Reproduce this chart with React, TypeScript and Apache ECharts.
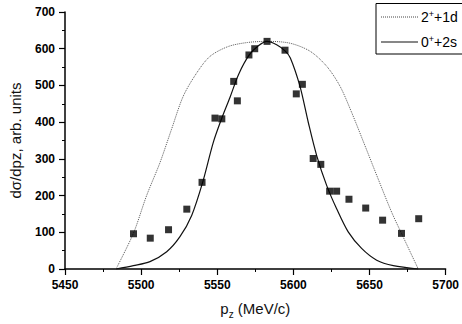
import React, { useEffect, useRef } from "react";
import * as echarts from "echarts";

// Measured points (pz in MeV/c, dσ/dpz in arb. units)
const dataX = [5495, 5506, 5518, 5530, 5540, 5548.5, 5553, 5560.8, 5563.2, 5570.8, 5574.6, 5582.7, 5594.5, 5601.9, 5605.9, 5613, 5618, 5623.8, 5628.4, 5636.5, 5647.5, 5658.6, 5671, 5682.3];
const dataY = [96, 84, 107, 163, 236, 411, 409, 511, 458, 583, 600, 620, 596, 477, 503, 301, 285, 212, 212, 190, 166, 133, 97, 137];

// 0+ + 2s curve (solid)
const solidX = [5483.5, 5494.9, 5505.8, 5516.8, 5525.5, 5533.2, 5540.4, 5547.4, 5552.9, 5558.4, 5564, 5571, 5577, 5582.5, 5589, 5594.5, 5598, 5604.3, 5609.8, 5615.3, 5621.9, 5628.4, 5636, 5644.8, 5654.7, 5665.6, 5682];
const solidY = [0, 9, 20, 47, 88, 146, 236, 345, 410, 468, 530, 583, 608, 620, 611, 594, 575, 498, 399, 309, 227, 164, 101, 56, 24, 9, 0];

// 2+ + 1d curve (dotted)
const dotX = [5483.5, 5494.9, 5503.6, 5512.4, 5520, 5527.7, 5536.5, 5545.2, 5557.2, 5570, 5583, 5597.8, 5611, 5621.9, 5630.6, 5638.3, 5647, 5655.7, 5664.5, 5671, 5682];
const dotY = [0, 97, 200, 290, 381, 471, 534, 579, 606, 617, 620, 615, 593, 552, 498, 426, 336, 245, 155, 97, 0];

const legendNames = ["2|+|+1d", "0|+|+2s"];

const FONT = "'Liberation Sans', Arial, sans-serif";

function richLabel(s: string) {
  const [a, sup, b] = s.split("|");
  return `{a|${a}}{sup|${sup}}{a|${b}}`;
}

export default function App() {
  const ref = useRef<HTMLDivElement>(null);
  useEffect(() => {
    document.body.style.margin = "0";
    const chart = echarts.init(ref.current!, undefined, { renderer: "svg" });
    const pair = (xs: number[], ys: number[]) => xs.map((x, i) => [x, ys[i]]);
    const legendRich = {
      a: { fontSize: 14, lineHeight: 16, fontFamily: FONT, color: "#000" },
      sup: { fontSize: 9, lineHeight: 9, verticalAlign: "top", fontFamily: FONT, color: "#000" },
    };
    chart.setOption({
      animation: false,
      backgroundColor: "#fff",
      textStyle: { fontFamily: FONT },
      grid: { left: 65, right: 16, top: 12, bottom: 53, containLabel: false },
      xAxis: {
        type: "value",
        min: 5450,
        max: 5700,
        interval: 50,
        name: "{a|p}{sub|z}{a| (MeV/c)}",
        nameLocation: "middle",
        nameGap: 29,
        nameTextStyle: {
          rich: {
            a: { fontSize: 15, fontFamily: FONT, color: "#111" },
            sub: { fontSize: 10, padding: [11, 0, 0, 0], fontFamily: FONT, color: "#111" },
          },
        },
        axisLine: { show: true, lineStyle: { color: "#000", width: 1.5 } },
        axisTick: { show: true, length: 6, lineStyle: { color: "#000", width: 1.2 } },
        minorTick: { show: true, splitNumber: 2, length: 3, lineStyle: { color: "#000", width: 1 } },
        axisLabel: {
          color: "#000",
          fontSize: 12,
          fontWeight: "bold",
          margin: 10,
          fontFamily: FONT,
          formatter: (v: number) => String(v),
        },
        splitLine: { show: false },
      },
      yAxis: {
        type: "value",
        min: 0,
        max: 700,
        interval: 100,
        name: "dσ/dpz, arb. units",
        nameLocation: "middle",
        nameGap: 42,
        nameTextStyle: { fontSize: 15, color: "#111", fontFamily: FONT },
        axisLine: { show: true, lineStyle: { color: "#000", width: 1.5 } },
        axisTick: { show: true, length: 6, lineStyle: { color: "#000", width: 1.2 } },
        minorTick: { show: true, splitNumber: 2, length: 3, lineStyle: { color: "#000", width: 1 } },
        axisLabel: { color: "#000", fontSize: 12, fontWeight: "bold", margin: 10, fontFamily: FONT },
        splitLine: { show: false },
      },
      series: [
        {
          type: "line",
          data: pair(dotX, dotY),
          showSymbol: false,
          smooth: 0.3,
          lineStyle: { color: "#555", width: 1, type: "dotted" },
          z: 2,
        },
        {
          type: "line",
          data: pair(solidX, solidY),
          showSymbol: false,
          smooth: 0.3,
          lineStyle: { color: "#111", width: 1.2 },
          z: 3,
        },
        {
          type: "scatter",
          data: pair(dataX, dataY),
          symbol: "rect",
          symbolSize: 7,
          itemStyle: { color: "#000" },
          z: 5,
        },
      ],
      graphic: [
        {
          type: "rect",
          shape: { x: 376, y: 3.5, width: 120, height: 50.5 },
          style: { fill: "#fff", stroke: "#000", lineWidth: 1 },
          z: 10,
        },
        {
          type: "line",
          shape: { x1: 381, y1: 17, x2: 418, y2: 17 },
          style: { stroke: "#444", lineWidth: 1, lineDash: [1, 1] },
          z: 11,
        },
        {
          type: "line",
          shape: { x1: 381, y1: 42, x2: 418, y2: 42 },
          style: { stroke: "#111", lineWidth: 1.2 },
          z: 11,
        },
        {
          type: "text",
          x: 421,
          y: 17,
          style: { text: richLabel(legendNames[0]), rich: legendRich, verticalAlign: "middle", align: "left", fill: "#000" },
          z: 11,
        },
        {
          type: "text",
          x: 421,
          y: 42,
          style: { text: richLabel(legendNames[1]), rich: legendRich, verticalAlign: "middle", align: "left", fill: "#000" },
          z: 11,
        },
      ],
    });
    return () => chart.dispose();
  }, []);
  return <div ref={ref} style={{ width: 462, height: 324 }} />;
}
